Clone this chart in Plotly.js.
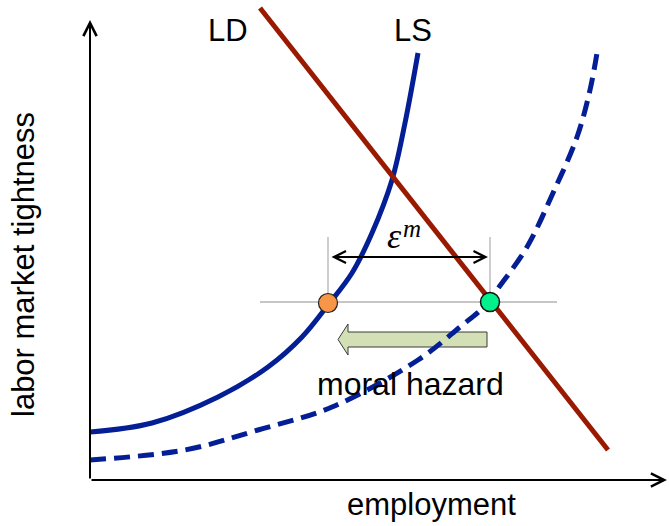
<!DOCTYPE html>
<html>
<head>
<meta charset="utf-8">
<script src="https://cdn.plot.ly/plotly-3.0.1.min.js"></script>
<style>html,body{margin:0;padding:0;background:#fff;}#chart{width:669px;height:526px;}</style>
</head>
<body>
<div id="chart"></div>
<script>
// Diagram coordinates: employment (x) and labor market tightness (y), arbitrary units
const lsX = [0, 62, 128, 178, 212, 238, 262, 282, 302, 315, 328];
const lsY = [48, 57, 83, 113, 143, 175, 207, 247, 300, 357, 427];
const lsShiftX = [0, 95, 168, 242, 328, 370, 398, 407, 437, 463, 487, 500, 508];
const lsShiftY = [20, 30, 50, 73, 120, 153, 177, 190, 233, 287, 343, 390, 433];
const ldX = [170, 518];
const ldY = [472, 30];
const eqOldX = [238], eqOldY = [177];
const eqNewX = [400], eqNewY = [178];
const guideHX = [170, 467], guideHY = [178, 178];
const guideTop = 243;
const gapArrowY = 223;
const hazardArrowX = [248, 258, 258, 397, 397, 258, 258, 248];
const hazardArrowY = [140.5, 156, 148, 148, 133, 133, 125, 140.5];
const labels = {LD: 'LD', LS: 'LS', hazard: 'moral hazard', x: 'employment', y: 'labor market tightness', eps: '<i>ε</i>', m: '<i>m</i>'};
const xMax = 579, yMax = 480;

const blue = '#041E96', red = '#991A00';
const traces = [
  {x: guideHX, y: guideHY, mode: 'lines', line: {color: '#b3b3b3', width: 1.3}, hoverinfo: 'skip'},
  {x: [eqOldX[0], eqOldX[0]], y: [eqOldY[0], guideTop], mode: 'lines', line: {color: '#b3b3b3', width: 1.3}, hoverinfo: 'skip'},
  {x: [eqNewX[0], eqNewX[0]], y: [eqNewY[0], guideTop], mode: 'lines', line: {color: '#b3b3b3', width: 1.3}, hoverinfo: 'skip'},
  {x: hazardArrowX, y: hazardArrowY, mode: 'lines', fill: 'toself', fillcolor: '#D3E0B5', line: {color: '#3a3a3a', width: 1}, hoverinfo: 'skip'},
  {x: lsShiftX, y: lsShiftY, mode: 'lines', line: {color: blue, width: 5, shape: 'spline', dash: '16px,8px'}},
  {x: lsX, y: lsY, mode: 'lines', line: {color: blue, width: 5, shape: 'spline'}},
  {x: ldX, y: ldY, mode: 'lines', line: {color: red, width: 5}},
  {x: eqOldX, y: eqOldY, mode: 'markers', marker: {size: 19, color: '#F79646', line: {color: '#222', width: 1.2}}},
  {x: eqNewX, y: eqNewY, mode: 'markers', marker: {size: 19, color: '#00F08C', line: {color: '#111', width: 1.5}}}
];

const txtFont = {family: 'Liberation Sans, Arial, sans-serif', size: 32, color: '#000'};
const serif = 'Liberation Serif, Times New Roman, serif';
const layout = {
  width: 669, height: 526,
  margin: {l: 90, r: 0, t: 0, b: 46},
  paper_bgcolor: '#fff', plot_bgcolor: '#fff',
  showlegend: false,
  xaxis: {range: [0, xMax], visible: false, fixedrange: true},
  yaxis: {range: [0, yMax], visible: false, fixedrange: true},
  annotations: [
    {x: xMax - 2, y: 0, ax: 0, ay: 0, axref: 'x', ayref: 'y', xref: 'x', yref: 'y', text: '', showarrow: true, arrowhead: 5, arrowsize: 1.3, arrowwidth: 2, arrowcolor: '#000', standoff: 0},
    {x: 0, y: yMax - 20, ax: 0, ay: 0, axref: 'x', ayref: 'y', xref: 'x', yref: 'y', text: '', showarrow: true, arrowhead: 5, arrowsize: 1.3, arrowwidth: 2, arrowcolor: '#000', standoff: 0},
    {x: eqNewX[0] - 2, y: gapArrowY, ax: eqOldX[0] + 2, ay: gapArrowY, axref: 'x', ayref: 'y', xref: 'x', yref: 'y', text: '', showarrow: true, arrowhead: 5, arrowside: 'end+start', arrowsize: 1.3, arrowwidth: 1.8, arrowcolor: '#000', standoff: 0},
    {x: 138, y: 450, xref: 'x', yref: 'y', text: labels.LD, showarrow: false, font: {...txtFont, size: 31}},
    {x: 323, y: 450, xref: 'x', yref: 'y', text: labels.LS, showarrow: false, font: {...txtFont, size: 31}},
    {x: 320, y: 96, xref: 'x', yref: 'y', text: labels.hazard, showarrow: false, font: txtFont},
    {x: 341 / xMax, y: -25 / yMax, xref: 'paper', yref: 'paper', xanchor: 'center', yanchor: 'middle', text: labels.x, showarrow: false, font: {...txtFont, size: 31}},
    {x: -66 / xMax, y: 215 / yMax, xref: 'paper', yref: 'paper', xanchor: 'center', yanchor: 'middle', text: labels.y, textangle: -90, showarrow: false, font: {...txtFont, size: 31}},
    {x: 304, y: 244, xref: 'x', yref: 'y', text: labels.eps, showarrow: false, font: {family: serif, size: 36, color: '#000'}},
    {x: 322, y: 252, xref: 'x', yref: 'y', text: labels.m, showarrow: false, font: {family: serif, size: 25, color: '#000'}}
  ]
};
Plotly.newPlot('chart', traces, layout, {staticPlot: true, displayModeBar: false});
</script>
</body>
</html>
